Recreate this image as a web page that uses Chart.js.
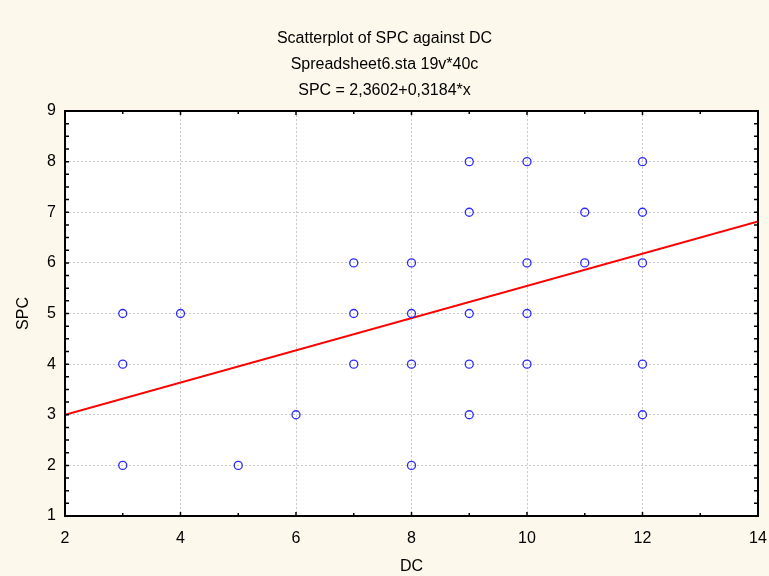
<!DOCTYPE html>
<html>
<head>
<meta charset="utf-8">
<script src="https://cdn.jsdelivr.net/npm/chart.js@4"></script>
<style>
  html, body { margin: 0; padding: 0; background: #fdf8ec; }
  #wrap { width: 769px; height: 576px; }
</style>
</head>
<body>
<div id="wrap"><canvas id="GraficoDispersion" width="769" height="576"></canvas></div>
<script>
// datos
var dcValues  = [3, 3, 3, 4, 5, 6, 7, 7, 7, 8, 8, 8, 8, 9, 9, 9, 9, 9, 10, 10, 10, 10, 11, 11, 12, 12, 12, 12, 12];
var spcValues = [5, 4, 2, 5, 2, 3, 6, 5, 4, 6, 5, 4, 2, 8, 7, 5, 4, 3, 8, 6, 5, 4, 7, 6, 8, 7, 6, 4, 3];
// recta SPC = 2,3602+0,3184*x en los extremos
var fitX = [2, 14];
var fitY = [2.997, 6.818];
var titleLines = ['Scatterplot of SPC against DC', 'Spreadsheet6.sta 19v*40c', 'SPC = 2,3602+0,3184*x'];
var xTicks = [2, 4, 6, 8, 10, 12, 14];
var yTicks = [1, 2, 3, 4, 5, 6, 7, 8, 9];

var puntos = dcValues.map(function(x, i) { return { x: x, y: spcValues[i] }; });
var recta = fitX.map(function(x, i) { return { x: x, y: fitY[i] }; });

Chart.defaults.font.family = '"Liberation Sans", Arial, sans-serif';
Chart.defaults.color = '#000';

// fondo blanco del area, marco y marcas menores
var marcoPlugin = {
  id: 'marco',
  beforeDraw: function(chart) {
    var c = chart.ctx, a = chart.chartArea;
    c.save();
    c.fillStyle = '#fdf8ec';
    c.fillRect(0, 0, chart.width, chart.height);
    c.fillStyle = '#ffffff';
    c.fillRect(a.left, a.top, a.right - a.left, a.bottom - a.top);
    c.restore();
  },
  afterDatasetsDraw: function(chart) {
    var c = chart.ctx, a = chart.chartArea;
    var xs = chart.scales.x, ys = chart.scales.y;
    c.save();
    c.strokeStyle = '#000';
    c.lineWidth = 1.5;
    c.beginPath();
    for (var v = 2; v <= 14; v += 1) {
      var px = xs.getPixelForValue(v);
      var len = (v % 2 === 0) ? 4 : 3;
      c.moveTo(px, a.bottom); c.lineTo(px, a.bottom - len);
      c.moveTo(px, a.top); c.lineTo(px, a.top + len);
    }
    for (var w = 1; w <= 9; w += 0.25) {
      var py = ys.getPixelForValue(w);
      c.moveTo(a.left, py); c.lineTo(a.left + 4, py);
      c.moveTo(a.right, py); c.lineTo(a.right - 4, py);
    }
    c.stroke();
    c.lineWidth = 2;
    c.strokeRect(a.left, a.top, a.right - a.left, a.bottom - a.top);
    c.restore();
  }
};

var ctx = document.getElementById('GraficoDispersion').getContext('2d');
var GraficoDispersion = new Chart(ctx, {
  type: 'scatter',
  data: {
    datasets: [{
      label: 'SPC',
      data: puntos,
      pointStyle: 'circle',
      pointRadius: 4,
      pointHoverRadius: 4,
      pointBorderWidth: 1.3,
      pointBorderColor: '#2a2aff',
      pointBackgroundColor: 'rgba(255,255,255,0)'
    }, {
      type: 'line',
      label: 'ajuste',
      data: recta,
      borderColor: '#ff0000',
      borderWidth: 2,
      pointRadius: 0,
      fill: false
    }]
  },
  options: {
    responsive: false,
    animation: false,
    layout: { padding: { left: 0, right: 0, top: 0, bottom: 0 } },
    plugins: {
      legend: { display: false },
      tooltip: { enabled: false },
      title: {
        display: true,
        text: titleLines,
        color: '#000',
        font: { size: 16, weight: 'normal', lineHeight: '26px' },
        padding: { top: 26, bottom: 7 }
      }
    },
    scales: {
      x: {
        type: 'linear',
        min: 2, max: 14,
        afterBuildTicks: function(s) { s.ticks = xTicks.map(function(v) { return { value: v }; }); },
        afterFit: function(s) { s.height = 60; s.paddingLeft = 0; s.paddingRight = 11; },
        ticks: { font: { size: 16 }, padding: 13, maxRotation: 0 },
        grid: { color: '#c8c8c8', drawTicks: false, tickLength: 0 },
        border: { display: false, dash: [2, 2] },
        title: { display: true, text: 'DC', font: { size: 16 }, padding: { top: 0, bottom: 0 } }
      },
      y: {
        type: 'linear',
        min: 1, max: 9,
        afterBuildTicks: function(s) { s.ticks = yTicks.map(function(v) { return { value: v }; }); },
        afterFit: function(s) { s.width = 65; },
        ticks: { font: { size: 16 }, padding: 9 },
        grid: { color: '#c8c8c8', drawTicks: false, tickLength: 0 },
        border: { display: false, dash: [2, 2] },
        title: { display: true, text: 'SPC', font: { size: 16 }, padding: { top: 14, bottom: 0 } }
      }
    }
  },
  plugins: [marcoPlugin]
});
</script>
</body>
</html>
